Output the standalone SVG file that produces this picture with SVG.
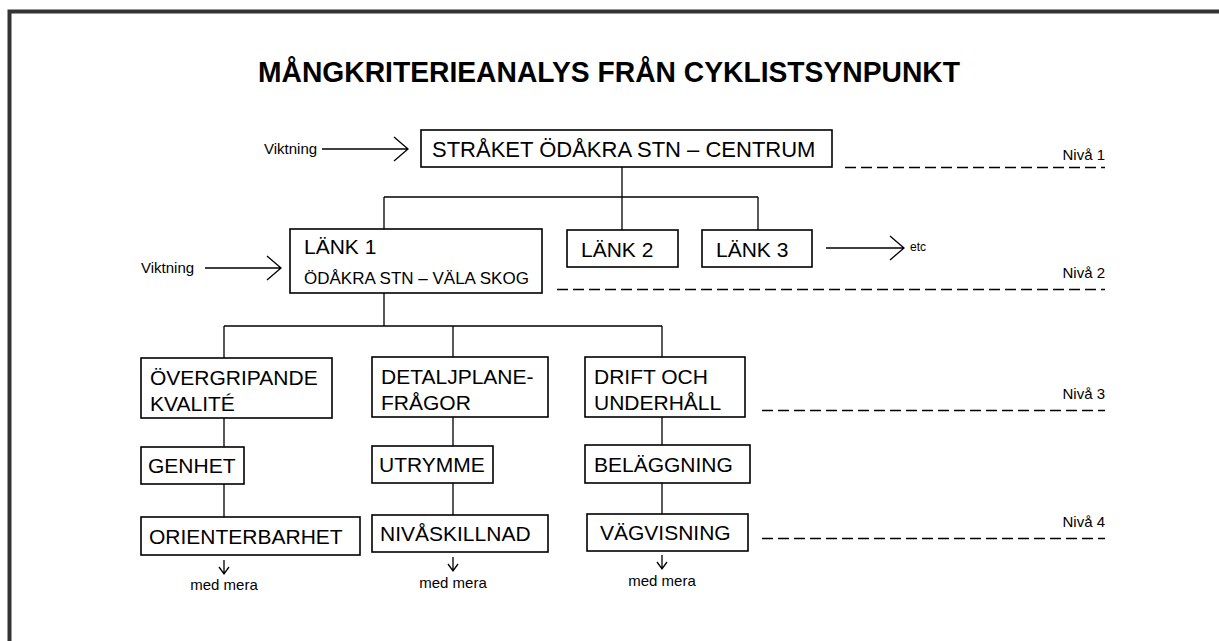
<svg xmlns="http://www.w3.org/2000/svg" width="1219" height="641" viewBox="0 0 1219 641">
<defs>
<style>
.box{fill:#fff;stroke:#000;stroke-width:1.6}
.ln{fill:none;stroke:#000;stroke-width:1.3}
.dash{fill:none;stroke:#000;stroke-width:1.6;stroke-dasharray:11 5}
.t{font-family:"Liberation Sans",Arial,sans-serif;fill:#000}
.bt{font-size:21px}
.sm{font-size:15px}
.xs{font-size:12px}
.nv{font-size:15px}
</style>
</defs>
<rect width="1219" height="641" fill="#fff"/>
<g id="frame"><path d="M9.5 641 V11.5 H1219" fill="none" stroke="#333" stroke-width="4"/></g>
<text id="title" class="t" x="609" y="82" text-anchor="middle" font-size="29" font-weight="bold" textLength="702" lengthAdjust="spacingAndGlyphs">MÅNGKRITERIEANALYS FRÅN CYKLISTSYNPUNKT</text>

<g id="connectors">
<path class="ln" d="M622 167 V197 M384 197 H758 M384 197 V229 M622 197 V230 M758 197 V230"/>
<path class="ln" d="M384 293 V326 M224 326 H662 M224 326 V358 M453 326 V357 M662 326 V357"/>
<path class="ln" d="M224 418 V447 M224 484 V517 M453 417 V446 M453 483 V515 M662 417 V445 M662 483 V514"/>
<path class="ln" d="M322 149 H407 M394 137 L408 149 L394 161"/>
<path class="ln" d="M205 268 H280 M267 256 L281 268 L267 280"/>
<path class="ln" d="M826 248 H903 M890 236 L904 248 L890 260"/>
<path class="ln" d="M224 560 V573 M219 567 L224 574 L229 567"/>
<path class="ln" d="M453 557 V570 M448 564 L453 571 L458 564"/>
<path class="ln" d="M662 555 V568 M657 562 L662 569 L667 562"/>
</g>

<g id="viktning1"><text class="t sm" x="264" y="154">Viktning</text></g>
<g id="viktning2"><text class="t sm" x="141" y="273">Viktning</text></g>
<g id="etc"><text class="t xs" x="910" y="251">etc</text></g>

<g id="niva">
<text class="t nv" x="1105" y="160" text-anchor="end">Nivå 1</text>
<path class="dash" d="M845 167.5 H1105"/>
<text class="t nv" x="1105" y="278" text-anchor="end">Nivå 2</text>
<path class="dash" d="M557 289.5 H1105"/>
<text class="t nv" x="1105" y="399" text-anchor="end">Nivå 3</text>
<path class="dash" d="M762 410.5 H1105"/>
<text class="t nv" x="1105" y="527" text-anchor="end">Nivå 4</text>
<path class="dash" d="M762 538.5 H1105"/>
</g>

<g id="n-strak"><rect class="box" x="421" y="130" width="411" height="37"/><text class="t" font-size="22" x="432" y="157">STRÅKET ÖDÅKRA STN – CENTRUM</text></g>
<g id="n-lank1"><rect class="box" x="290" y="229" width="252" height="64"/><text class="t bt" x="304" y="254">LÄNK 1</text><text class="t" font-size="17" x="304" y="284">ÖDÅKRA STN – VÄLA SKOG</text></g>
<g id="n-lank2"><rect class="box" x="567" y="230" width="111" height="37"/><text class="t bt" x="581" y="257">LÄNK 2</text></g>
<g id="n-lank3"><rect class="box" x="702" y="230" width="110" height="37"/><text class="t bt" x="716" y="257">LÄNK 3</text></g>

<g id="n-overgr"><rect class="box" x="141" y="358" width="191" height="60"/><text class="t bt" x="150" y="385">ÖVERGRIPANDE</text><text class="t bt" x="150" y="411">KVALITÉ</text></g>
<g id="n-detalj"><rect class="box" x="372" y="357" width="176" height="60"/><text class="t bt" x="381" y="384">DETALJPLANE-</text><text class="t bt" x="381" y="410">FRÅGOR</text></g>
<g id="n-drift"><rect class="box" x="585" y="357" width="160" height="60"/><text class="t bt" x="594" y="384">DRIFT OCH</text><text class="t bt" x="594" y="410">UNDERHÅLL</text></g>

<g id="n-genhet"><rect class="box" x="141" y="447" width="103" height="37"/><text class="t bt" x="148" y="473">GENHET</text></g>
<g id="n-utrymme"><rect class="box" x="372" y="446" width="121" height="37"/><text class="t bt" x="379" y="472">UTRYMME</text></g>
<g id="n-belagg"><rect class="box" x="585" y="445" width="165" height="38"/><text class="t bt" x="594" y="472">BELÄGGNING</text></g>

<g id="n-orient"><rect class="box" x="141" y="517" width="219" height="38"/><text class="t bt" x="149" y="544">ORIENTERBARHET</text></g>
<g id="n-nivask"><rect class="box" x="372" y="515" width="176" height="37"/><text class="t bt" x="380" y="541">NIVÅSKILLNAD</text></g>
<g id="n-vagvis"><rect class="box" x="587" y="514" width="161" height="37"/><text class="t bt" x="600" y="540">VÄGVISNING</text></g>

<g id="medmera">
<text class="t sm" x="224" y="590" text-anchor="middle">med mera</text>
<text class="t sm" x="453" y="588" text-anchor="middle">med mera</text>
<text class="t sm" x="662" y="586" text-anchor="middle">med mera</text>
</g>
</svg>
